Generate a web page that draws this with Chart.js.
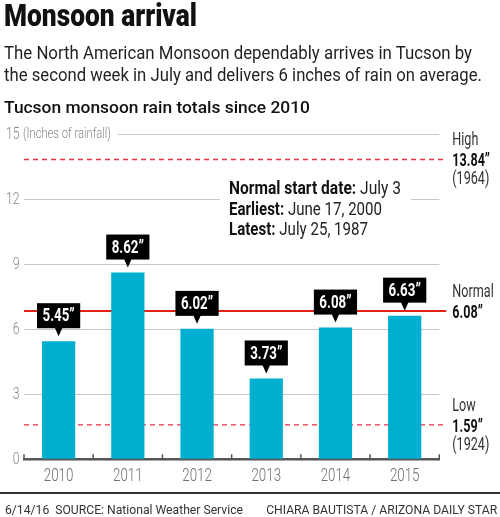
<!DOCTYPE html>
<html><head><meta charset="utf-8">
<script src="https://cdn.jsdelivr.net/npm/chart.js@4.4.1/dist/chart.umd.min.js"></script>
<style>
html,body{margin:0;padding:0;background:#fff;}
#wrap{position:relative;width:500px;height:517px;overflow:hidden;font-family:Roboto,'Open Sans',sans-serif;color:#231f20;}
#c{position:absolute;left:0;top:0;}
.t{position:absolute;white-space:nowrap;line-height:1;transform-origin:0 0;}
#title{left:4px;top:0px;font-weight:900;font-size:31px;color:#111;}
#head{left:4px;top:99px;font-size:17px;font-weight:500;color:#111;}
#rule{position:absolute;left:0;top:491.7px;width:500px;height:2.3px;background:#333;}
.foot{top:502.5px;font-size:13px;font-weight:400;color:#333;}
#fl{left:5px;}
#fr{right:3.3px;transform-origin:100% 0;}
</style></head>
<body>
<div id="wrap">
<canvas id="c" width="500" height="517"></canvas>
<div class="t" id="title" data-fit="193">Monsoon arrival</div>
<div class="t" id="sub1" style="left:4px;top:44px;font-size:18.5px;" data-fit="468">The North American Monsoon dependably arrives in Tucson by</div>
<div class="t" id="sub2" style="left:4px;top:66px;font-size:18.5px;" data-fit="478">the second week in July and delivers 6 inches of rain on average.</div>
<div class="t" id="head" data-fit="306">Tucson monsoon rain totals since 2010</div>
<div id="rule"></div>
<div class="t foot" id="fl" data-fit="238">6/14/16&nbsp; SOURCE: National Weather Service</div>
<div class="t foot" id="fr" data-fit="231">CHIARA BAUTISTA / ARIZONA DAILY STAR</div>
</div>
<script>
// ---- data ----
const years = ['2010', '2011', '2012', '2013', '2014', '2015'];
const rainfall = [5.45, 8.62, 6.02, 3.73, 6.08, 6.63];
const yTickValues = [0, 3, 6, 9, 12, 15];
const yUnitLabel = '(Inches of rainfall)';
const refNames = ['High', 'Normal', 'Low'];
const refValues = [13.84, 6.08, 1.59];
const refYears = ['(1964)', '', '(1924)'];
const refDrawnAt = [13.84, 6.84, 1.59]; // where each line sits in the reference picture
const refDashed = [true, false, true];
const noteLabels = ['Normal start date:', 'Earliest:', 'Latest:'];
const noteValues = [' July 3', ' June 17, 2000', ' July 25, 1987'];

const FONT = "Roboto, 'Open Sans', sans-serif";
const K = 0.72;            // horizontal condensing of chart text
const RED = '#e2231a';
const BAR = '#00aecf';
const fmt = v => v.toFixed(2) + '\u201D';

// fit HTML text widths
document.querySelectorAll('[data-fit]').forEach(el => {
  const w = el.getBoundingClientRect().width;
  el.style.transform = 'scaleX(' + (+el.dataset.fit / w) + ')';
});

function txt(ctx, s, x, y, k) {
  ctx.save(); ctx.translate(x, y); ctx.scale(k, 1); ctx.fillText(s, 0, 0); ctx.restore();
}

const condense = {
  id: 'condense',
  afterLayout(chart) {
    Object.values(chart.scales).forEach(s => {
      if (s._cond) return;
      s._cond = true;
      const orig = s.drawLabels;
      s.drawLabels = function (ca) {
        const ctx = this.ctx;
        const f = CanvasRenderingContext2D.prototype.fillText;
        ctx.fillText = function (t, x, y) { this.save(); this.translate(x, y); this.scale(K, 1); f.call(this, t, 0, 0); this.restore(); };
        try { orig.call(this, ca); } finally { delete ctx.fillText; }
      };
    });
  }
};

const decor = {
  id: 'decor',
  beforeDatasetsDraw(chart) {
    const {ctx, chartArea: a, scales: {y}} = chart;
    ctx.save();
    ctx.fillStyle = '#fff';
    const y15 = y.getPixelForValue(15);
    ctx.fillRect(a.left - 1, y15 - 4, 118 - a.left + 1, 8);
    const y12 = y.getPixelForValue(12);
    ctx.fillRect(220, y12 - 25, 191, 65);
    refDrawnAt.forEach((v, i) => {
      const py = y.getPixelForValue(v);
      ctx.beginPath();
      if (refDashed[i]) { ctx.setLineDash([5, 4]); ctx.lineWidth = 1.4; ctx.strokeStyle = '#e8314a'; }
      else { ctx.setLineDash([]); ctx.lineWidth = 2; ctx.strokeStyle = RED; }
      ctx.moveTo(a.left, py);
      ctx.lineTo(a.right + 7, py);
      ctx.stroke();
    });
    ctx.restore();
  },
  afterDatasetsDraw(chart) {
    const {ctx, chartArea: a, scales: {x, y}} = chart;
    ctx.save();
    // x tick marks (upward, at category boundaries)
    const step = x.getPixelForValue(1) - x.getPixelForValue(0);
    ctx.strokeStyle = '#555';
    ctx.lineWidth = 1.5;
    for (let i = 0; i <= years.length; i++) {
      const px = x.getPixelForValue(0) - step / 2 + i * step;
      ctx.beginPath();
      ctx.moveTo(px, a.bottom);
      ctx.lineTo(px, a.bottom - 5);
      ctx.stroke();
    }
    // value callouts
    const meta = chart.getDatasetMeta(0);
    ctx.font = 'bold 18.5px ' + FONT;
    ctx.textAlign = 'center';
    ctx.textBaseline = 'middle';
    const KB = 0.72;
    meta.data.forEach((bar, i) => {
      const s = fmt(rainfall[i]);
      const w = ctx.measureText(s).width * KB + 11;
      const h = 25;
      const bottom = bar.y - 13;
      ctx.fillStyle = '#000';
      ctx.fillRect(bar.x - w / 2, bottom - h, w, h);
      ctx.beginPath();
      ctx.moveTo(bar.x - 4, bottom - 1);
      ctx.lineTo(bar.x + 4, bottom - 1);
      ctx.lineTo(bar.x, bottom + 8);
      ctx.closePath();
      ctx.fill();
      ctx.fillStyle = '#fff';
      txt(ctx, s, bar.x, bottom - h / 2 + 1, KB);
    });
    // unit label
    ctx.textAlign = 'left';
    ctx.textBaseline = 'middle';
    ctx.fillStyle = '#888';
    ctx.font = '300 14.5px ' + FONT;
    const uk = 88 / ctx.measureText(yUnitLabel).width;
    txt(ctx, yUnitLabel, a.left - 1, y.getPixelForValue(15) + 0.5, uk);
    // right side labels
    ctx.textBaseline = 'alphabetic';
    const rx = a.right + 13;
    refDrawnAt.forEach((v, i) => {
      const py = y.getPixelForValue(v);
      ctx.fillStyle = '#333';
      ctx.font = '17.5px ' + FONT;
      txt(ctx, refNames[i], rx, py - 14, K);
      ctx.fillStyle = '#111';
      ctx.font = 'bold 17.5px ' + FONT;
      txt(ctx, fmt(refValues[i]), rx, py + 7, K);
      ctx.fillStyle = '#333';
      ctx.font = '17.5px ' + FONT;
      if (refYears[i]) txt(ctx, refYears[i], rx, py + 25, K);
    });
    // note
    const nx = 229;
    const noteW = [172, 153, 139];
    let ny = y.getPixelForValue(12) - 5;
    noteLabels.forEach((lab, i) => {
      ctx.font = 'bold 17.5px ' + FONT;
      const w1 = ctx.measureText(lab).width;
      ctx.font = '17.5px ' + FONT;
      const w2 = ctx.measureText(noteValues[i]).width;
      const k = noteW[i] / (w1 + w2);
      ctx.font = 'bold 17.5px ' + FONT;
      ctx.fillStyle = '#111';
      txt(ctx, lab, nx, ny, k);
      ctx.font = '17.5px ' + FONT;
      ctx.fillStyle = '#222';
      txt(ctx, noteValues[i], nx + w1 * k, ny, k);
      ny += 20.5;
    });
    ctx.restore();
  }
};

new Chart(document.getElementById('c'), {
  type: 'bar',
  data: {
    labels: years,
    datasets: [{ data: rainfall, backgroundColor: BAR, borderWidth: 0, categoryPercentage: 1, barPercentage: 0.48 }]
  },
  options: {
    responsive: false,
    animation: false,
    devicePixelRatio: 1,
    layout: { padding: { top: 134.3, right: 60.7, bottom: 27.7, left: 0 } },
    plugins: { legend: { display: false }, tooltip: { enabled: false } },
    scales: {
      x: {
        afterFit: s => { s.height = 30; },
        grid: { display: false, drawTicks: false },
        border: { display: true, color: '#555', width: 2.5 },
        ticks: { color: '#6f6f6f', font: { family: FONT, size: 18.5, weight: '300' }, padding: 6 }
      },
      y: {
        min: 0, max: 15,
        afterFit: s => { s.width = 24; },
        afterBuildTicks: s => { s.ticks = yTickValues.map(v => ({ value: v })); },
        grid: { color: '#c8c8c8', lineWidth: 1, drawTicks: false },
        border: { display: false },
        ticks: { color: '#888', font: { family: FONT, size: 17, weight: '300' }, padding: 4.5 }
      }
    }
  },
  plugins: [condense, decor]
});
</script>
</body></html>
